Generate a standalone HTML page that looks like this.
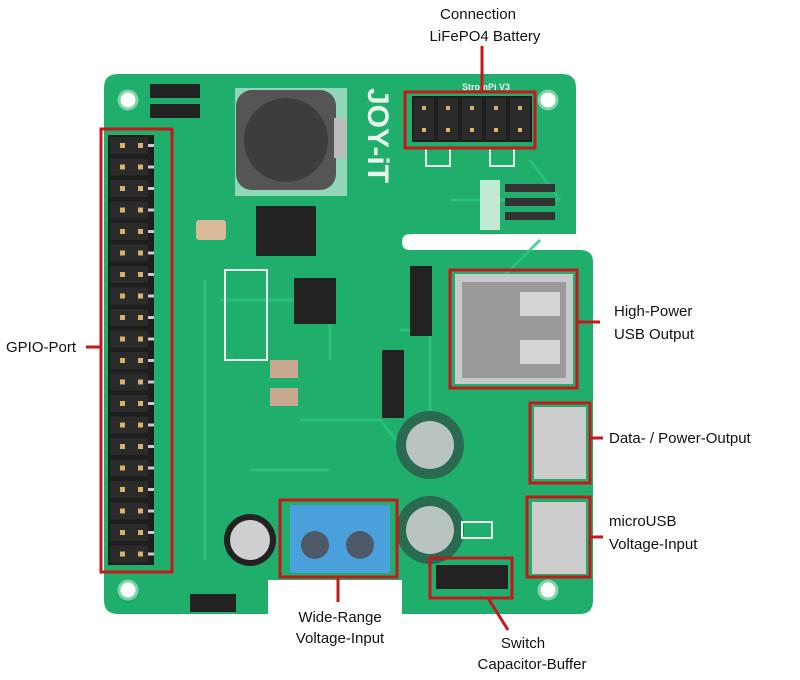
<!DOCTYPE html>
<html><head><meta charset="utf-8"><style>
html,body{margin:0;padding:0;background:#fff;}
svg{display:block}
text{font-family:"Liberation Sans",sans-serif;fill:#111;}
</style></head><body>
<svg width="800" height="680" viewBox="0 0 800 680" xmlns="http://www.w3.org/2000/svg">
<defs>
<pattern id="pins" x="108" y="135" width="46" height="21.5" patternUnits="userSpaceOnUse">
<rect width="46" height="21.5" fill="#1e1e1e"/>
<rect x="2" y="2" width="38" height="17" fill="#2b2b2b"/>
<rect x="12" y="8" width="5" height="5" fill="#d8b26a"/>
<rect x="30" y="8" width="5" height="5" fill="#d8b26a"/>
<rect x="40" y="9" width="6" height="3" fill="#c9c9c9"/>
</pattern>
<pattern id="bpins" x="412" y="96" width="24" height="46" patternUnits="userSpaceOnUse">
<rect width="24" height="46" fill="#1e1e1e"/>
<rect x="2" y="2" width="20" height="42" fill="#2b2b2b"/>
<rect x="10" y="10" width="4" height="4" fill="#d8b26a"/>
<rect x="10" y="32" width="4" height="4" fill="#d8b26a"/>
</pattern>
</defs>
<!-- board -->
<path d="M118,74 H562 Q576,74 576,88 V234 H410 Q402,234 402,242 Q402,250 410,250 H580 Q593,250 593,262 V600 Q593,614 580,614 H402 V580 H268 V614 H118 Q104,614 104,600 V88 Q104,74 118,74 Z" fill="#1fae6c"/>
<g fill="#fff" stroke="#7fd4a8" stroke-width="3">
<circle cx="128" cy="100" r="9"/><circle cx="548" cy="100" r="9"/>
<circle cx="128" cy="590" r="9"/><circle cx="548" cy="590" r="9"/>
</g>
<g stroke="#2cc47f" stroke-width="3" fill="none" opacity="0.8">
<path d="M205,280 V560 M220,300 H330 V360 M400,330 H430 V470 M300,420 H380 L420,470 M480,300 L540,240 M530,160 L560,200 M250,470 H330 M450,200 H560"/>
</g>
<rect x="150" y="84" width="50" height="14" fill="#222"/>
<rect x="150" y="104" width="50" height="14" fill="#222"/>
<rect x="235" y="88" width="112" height="108" fill="#fff" opacity="0.5"/>
<rect x="236" y="90" width="100" height="100" rx="16" fill="#555"/>
<circle cx="286" cy="140" r="42" fill="#3d3d3d"/>
<rect x="334" y="118" width="12" height="40" fill="#bbb"/>
<text x="0" y="0" transform="translate(368,88) rotate(90)" font-size="30" font-weight="bold" style="fill:#e8f5ec">JOY-iT</text>
<rect x="256" y="206" width="60" height="50" fill="#222"/>
<rect x="196" y="220" width="30" height="20" rx="3" fill="#d9b99a"/>
<rect x="294" y="278" width="42" height="46" fill="#222"/>
<rect x="270" y="360" width="28" height="18" fill="#c9a890"/>
<rect x="270" y="388" width="28" height="18" fill="#c9a890"/>
<rect x="225" y="270" width="42" height="90" fill="none" stroke="#e8f5ec" stroke-width="2"/>
<rect x="410" y="266" width="22" height="70" fill="#222"/>
<rect x="382" y="350" width="22" height="68" fill="#222"/>
<rect x="480" y="180" width="20" height="50" fill="#eaf7ef" opacity="0.8"/>
<rect x="505" y="184" width="50" height="8" fill="#333"/>
<rect x="505" y="198" width="50" height="8" fill="#333"/>
<rect x="505" y="212" width="50" height="8" fill="#333"/>
<!-- GPIO header -->
<rect x="108" y="135" width="46" height="430" fill="url(#pins)"/>
<!-- battery header -->
<rect x="412" y="96" width="120" height="46" fill="url(#bpins)"/>
<text x="462" y="90" font-size="9" font-weight="bold" style="fill:#e8f5ec">StromPi V3</text>
<rect x="426" y="148" width="24" height="18" fill="none" stroke="#e8f5ec" stroke-width="2"/>
<rect x="490" y="148" width="24" height="18" fill="none" stroke="#e8f5ec" stroke-width="2"/>
<!-- USB-A -->
<rect x="455" y="274" width="118" height="110" fill="#c8c8c8"/>
<rect x="462" y="282" width="104" height="96" fill="#9a9a9a"/>
<rect x="520" y="292" width="40" height="24" fill="#d6d6d6"/>
<rect x="520" y="340" width="40" height="24" fill="#d6d6d6"/>
<!-- micro USB -->
<rect x="534" y="407" width="52" height="72" fill="#ccc"/>
<rect x="532" y="502" width="54" height="72" fill="#ccc"/>
<!-- caps -->
<circle cx="430" cy="445" r="34" fill="#2a6a50"/><circle cx="430" cy="445" r="24" fill="#b9c3c0"/>
<circle cx="430" cy="530" r="34" fill="#2a6a50"/><circle cx="430" cy="530" r="24" fill="#b9c3c0"/>
<circle cx="250" cy="540" r="26" fill="#222"/><circle cx="250" cy="540" r="20" fill="#cfcfcf"/>
<!-- terminal block -->
<rect x="290" y="505" width="100" height="68" fill="#4aa0db"/>
<circle cx="315" cy="545" r="14" fill="#4d5966"/><circle cx="360" cy="545" r="14" fill="#4d5966"/>
<rect x="436" y="565" width="72" height="24" fill="#222"/>
<rect x="190" y="594" width="46" height="18" fill="#222"/>
<rect x="462" y="522" width="30" height="16" fill="none" stroke="#e8f5ec" stroke-width="2"/>
<g fill="none" stroke="#c8161d" stroke-width="3">
<rect x="101" y="129" width="71" height="443"/>
<rect x="405" y="92" width="130" height="56"/>
<rect x="450" y="270" width="127" height="118"/>
<rect x="530" y="403" width="60" height="80"/>
<rect x="527" y="497" width="63" height="80"/>
<rect x="280" y="500" width="117" height="77"/>
<rect x="430" y="558" width="82" height="40"/>
<path d="M482,46 V92"/>
<path d="M86,347 H101"/>
<path d="M577,322 H600"/>
<path d="M590,438 H603"/>
<path d="M590,537 H603"/>
<path d="M338,577 V602"/>
<path d="M488,598 L508,630"/>
</g>
<g font-size="15">
<text x="478" y="19" text-anchor="middle">Connection</text>
<text x="485" y="41" text-anchor="middle">LiFePO4  Battery</text>
<text x="614" y="316">High-Power</text>
<text x="614" y="339">USB  Output</text>
<text x="6" y="352">GPIO-Port</text>
<text x="609" y="443">Data- / Power-Output</text>
<text x="609" y="526">microUSB</text>
<text x="609" y="549">Voltage-Input</text>
<text x="340" y="622" text-anchor="middle">Wide-Range</text>
<text x="340" y="643" text-anchor="middle">Voltage-Input</text>
<text x="523" y="648" text-anchor="middle">Switch</text>
<text x="532" y="669" text-anchor="middle">Capacitor-Buffer</text>
</g>
</svg>
</body></html>
